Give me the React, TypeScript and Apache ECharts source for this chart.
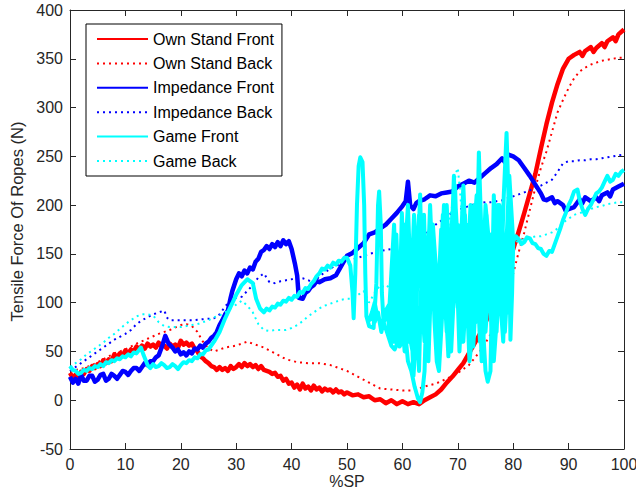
import React, { useEffect, useRef } from "react";
import * as echarts from "echarts";

type Pt = [number, number];

// Rope tension (N) against %SP for the three strategies, front and back ropes.
const ownStandFront: Pt[] = [
  [0, 28], [0.5, 23], [1, 26], [1.5, 22], [2, 29], [2.5, 27], [3, 32], [3.5, 30], [4, 35], [4.5, 33],
  [5, 37], [5.5, 35], [6, 41], [6.5, 38], [7, 42], [7.5, 40], [8, 47], [8.5, 44], [9, 48], [9.5, 46],
  [10, 51], [10.5, 48], [11, 52], [11.5, 50], [12, 55], [12.5, 52], [13, 56], [13.5, 53], [14, 58], [14.5, 55],
  [15, 57], [15.5, 54], [16, 59], [16.5, 55], [17, 56], [17.5, 53], [18, 58], [18.5, 55], [19, 57], [19.5, 54],
  [20, 61], [20.5, 57], [21, 59], [21.5, 56], [22, 58], [22.5, 53], [23, 50], [23.5, 45], [24, 43], [24.5, 40],
  [25, 38], [25.5, 35], [26, 34], [26.5, 31], [27, 34], [27.5, 31], [28, 33], [28.5, 30], [29, 35], [29.5, 32],
  [30, 34], [30.5, 37], [31, 34], [31.5, 38], [32, 35], [32.5, 37], [33, 34], [33.5, 36], [34, 32], [34.5, 35],
  [35, 31], [35.5, 30], [36, 29], [36.5, 27], [37, 28], [37.5, 24], [38, 25], [38.5, 20], [39, 22], [39.5, 17],
  [40, 18], [40.5, 13], [41, 16], [41.5, 11], [42, 17], [42.5, 12], [43, 14], [43.5, 10], [44, 15], [44.5, 11],
  [45, 13], [45.5, 9], [46, 12], [46.5, 10], [47, 11], [47.5, 8], [48, 11], [48.5, 8], [49, 9], [49.5, 6],
  [50, 8], [51, 5], [52, 6], [53, 3], [54, 4], [55, 0], [56, 1], [57, -3], [58, 0], [59, -4],
  [60, -1], [61, -4], [62, -2], [63, -4], [64, 0], [65, 3], [66, 6], [67, 11], [68, 18], [69, 24],
  [70, 31], [71, 38], [72, 48], [73, 58], [74, 68], [75, 80], [76, 92], [77, 104], [78, 120], [79, 138],
  [80, 155], [81, 173], [82, 192], [83, 212], [84, 232], [85, 258], [86, 283], [87, 305], [88, 324], [89, 340],
  [90, 350], [91, 354], [92, 357], [92.5, 353], [93, 358], [94, 362], [94.5, 357], [95, 361], [96, 366], [96.5, 362],
  [97, 368], [98, 372], [98.5, 368], [99, 375], [100, 380],
];

const ownStandBack: Pt[] = [
  [0, 30], [2, 32], [4, 36], [6, 42], [8, 48], [10, 52], [12, 58], [14, 63], [16, 68], [18, 72],
  [20, 77], [21, 78], [22, 76], [23, 70], [24, 60], [25, 53], [26, 50], [27, 52], [28, 54], [30, 56],
  [32, 60], [33, 58], [35, 54], [37, 48], [39, 42], [41, 39], [43, 38], [45, 38], [47, 36], [48, 34],
  [50, 30], [52, 24], [54, 18], [56, 12], [58, 11], [60, 10], [62, 10], [63, 12], [64, 14], [66, 17],
  [68, 22], [70, 28], [72, 36], [74, 50], [76, 68], [78, 95], [80, 130], [81, 152], [82, 172], [83, 195],
  [84, 218], [85, 238], [86, 255], [87, 275], [88, 295], [89, 308], [90, 320], [91, 330], [92, 337], [93, 341],
  [94, 344], [95, 346], [96, 348], [97, 349], [98, 350], [99, 351], [100, 351],
];

const impedanceFront: Pt[] = [
  [0, 24], [0.5, 18], [1, 22], [1.5, 17], [2, 26], [2.5, 20], [3, 20], [3.5, 25], [4, 25], [4.5, 19],
  [5, 21], [5.5, 26], [6, 27], [6.5, 20], [7, 22], [7.5, 27], [8, 25], [8.5, 22], [9, 26], [9.5, 30],
  [10, 29], [10.5, 26], [11, 30], [11.5, 33], [12, 33], [12.5, 30], [13, 34], [13.5, 38], [14, 36], [14.5, 40],
  [15, 40], [15.5, 44], [16, 46], [16.6, 55], [17.2, 66], [17.8, 58], [18.5, 54], [19, 50], [19.5, 52], [20, 47],
  [20.5, 49], [21, 46], [21.5, 50], [22, 48], [22.5, 53], [23, 52], [23.5, 56], [24, 54], [24.5, 58], [25, 60],
  [25.5, 64], [26, 66], [26.5, 70], [27, 77], [27.5, 82], [28, 88], [28.5, 92], [29, 105], [29.3, 112], [30, 124],
  [30.5, 130], [31, 127], [31.5, 133], [32, 130], [32.5, 136], [33, 134], [33.5, 142], [34, 145], [34.5, 152], [35, 154],
  [35.5, 158], [36, 155], [36.5, 160], [37, 157], [37.5, 162], [38, 158], [38.5, 164], [39, 160], [39.5, 163], [40, 155],
  [40.6, 140], [41, 128], [41.3, 105], [42, 104], [42.5, 110], [43, 112], [43.5, 116], [44, 118], [44.5, 122], [45, 121],
  [46, 124], [47, 125], [48, 128], [49, 138], [50, 148], [51, 151], [52, 156], [53, 161], [54, 170], [55, 172],
  [56, 176], [57, 180], [58, 186], [59, 192], [60, 199], [60.6, 204], [61, 224], [61.4, 200], [62, 196], [62.5, 202],
  [63, 204], [64, 206], [65, 210], [66, 209], [67, 212], [68, 213], [69, 214], [70, 219], [71, 222], [72, 225],
  [73, 223], [74, 228], [75, 233], [76, 238], [77, 242], [78, 248], [78.5, 244], [79, 252], [80, 250], [81, 246],
  [82, 238], [83, 230], [84, 221], [85, 212], [85.5, 206], [86, 205], [87, 208], [87.5, 202], [88, 204], [89, 200],
  [89.5, 194], [90, 196], [91, 198], [92, 206], [92.5, 202], [93, 208], [94, 204], [95, 208], [95.5, 204], [96, 210],
  [97, 213], [97.5, 209], [98, 216], [99, 219], [100, 222],
];

const impedanceBack: Pt[] = [
  [0, 30], [1, 34], [2, 38], [3, 42], [4, 46], [5, 50], [6, 54], [7, 58], [8, 62], [9, 65],
  [10, 68], [11, 72], [12, 78], [13, 82], [14, 85], [15, 88], [16, 90], [17, 92], [17.6, 84], [18, 82],
  [20, 82], [22, 82], [24, 83], [26, 84], [27, 88], [28, 96], [29, 103], [30, 105], [31, 106], [32, 112],
  [33, 118], [34, 126], [35, 130], [36, 121], [37, 120], [38, 122], [39, 123], [40, 124], [41, 126], [42, 125],
  [43, 123], [44, 120], [45, 127], [46, 131], [47, 135], [48, 138], [50, 142], [52, 146], [54, 150], [56, 153],
  [58, 155], [60, 157], [61, 160], [62, 163], [63, 167], [64, 170], [65, 174], [66, 180], [67, 184], [68, 189],
  [69, 192], [70, 195], [71, 197], [72, 199], [73, 201], [74, 202], [75, 203], [76, 203], [77, 204], [78, 205],
  [79, 207], [80, 209], [81, 211], [82, 213], [83, 215], [84, 218], [85, 220], [86, 223], [87, 226], [88, 234],
  [89, 243], [90, 245], [91, 245], [92, 246], [93, 246], [94, 247], [95, 247], [96, 248], [97, 249], [98, 250],
  [99, 251], [100, 252],
];

// The game trial swings back and forth across the 50-80 %SP range, so x is not monotonic there.
const gameFront: Pt[] = [
  [0, 35], [0.5, 31], [1, 30], [1.5, 27], [2, 28], [2.5, 31], [3, 30], [3.5, 33], [4, 32], [4.5, 35],
  [5, 34], [5.5, 37], [6, 35], [6.5, 39], [7, 38], [7.5, 41], [8, 40], [8.5, 43], [9, 42], [9.5, 45],
  [10, 44], [10.5, 47], [11, 45], [11.5, 49], [12, 48], [12.8, 54], [13.3, 46], [14, 36], [14.5, 33], [15, 37],
  [15.5, 34], [16, 35], [16.5, 38], [17, 36], [17.5, 33], [18, 34], [18.5, 37], [19, 35], [19.5, 32], [20, 36],
  [20.5, 39], [21, 38], [21.5, 41], [22, 40], [22.5, 44], [23, 43], [23.5, 47], [24, 47], [24.5, 51], [25, 52],
  [26, 60], [27, 70], [28, 84], [29, 96], [30, 108], [31, 118], [32, 124], [33, 120], [33.6, 104], [34.3, 94],
  [35, 90], [35.5, 94], [36, 92], [36.5, 96], [37, 95], [37.5, 99], [38, 98], [38.5, 102], [39, 101], [39.5, 105],
  [40, 103], [40.5, 107], [41, 106], [41.5, 111], [42, 110], [42.5, 115], [43, 114], [43.5, 119], [44, 122], [44.5, 127],
  [45, 130], [45.5, 135], [46, 134], [46.5, 138], [47, 136], [47.5, 141], [48, 139], [48.5, 143], [49, 142], [49.5, 146],
  [50, 146],
  // first sweep
  [50.6, 138], [51, 110], [51.2, 84], [51.5, 130], [51.8, 200], [52.1, 240], [52.4, 249], [52.8, 244], [53.1, 200], [53.3, 130],
  [53.5, 86], [54, 76], [54.8, 74], [55.3, 120], [55.6, 200], [55.8, 214], [56.1, 180], [56.3, 110], [56.6, 80], [57.2, 70],
  [58, 56], [58.6, 52], [59.2, 60], [59.6, 120], [59.9, 192], [60.2, 150], [60.5, 70], [61, 40], [61.6, 30], [62.2, 14],
  [62.8, 2], [63.2, -2], [63.6, 8], [64, 30], [64.3, 90], [64.6, 160], [65, 185], [65.4, 140], [65.8, 80], [66.2, 40],
  [66.6, 30], [67.2, 90], [67.6, 170], [68, 140], [68.4, 70], [68.8, 50], [69.3, 110], [69.6, 200], [70, 160], [70.4, 90],
  [71, 60], [71.5, 110], [72, 180], [72.4, 120], [72.8, 55], [73.3, 110], [73.8, 254], [74.2, 180], [74.5, 80], [75, 30],
  [75.4, 19], [75.9, 30], [76.2, 120], [76.5, 210], [76.9, 150], [77.3, 90], [77.8, 120], [78.3, 210], [78.8, 274], [79.2, 200],
  [79.5, 62], [79.8, 110], [80, 160],
  // return sweep
  [79, 150], [78, 120], [77.5, 170], [77, 100], [76.5, 60], [76, 140], [75, 200], [74.5, 120], [74, 60], [73.5, 130],
  [73, 200], [72.5, 110], [72, 70], [71.5, 150], [71, 220], [70.5, 150], [70, 95], [69.5, 140], [69, 190], [68.5, 110],
  [68, 70], [67.5, 120], [67, 175], [66.5, 110], [66, 60], [65.5, 130], [65, 200], [64.5, 120], [64, 70], [63.5, 140],
  [63.2, 211], [62.8, 150], [62.4, 60], [62, 25], [61.6, 80], [61.2, 160], [60.8, 120], [60.4, 50], [60, 80], [59.5, 150],
  [59, 110], [58.5, 60], [58, 90], [57.5, 96], [57, 84], [56.6, 80], [56.2, 70], [55.6, 90], [55, 80], [54.4, 85],
  [54, 82],
  // second forward sweep
  [54.5, 90], [55, 100], [55.5, 85], [56.5, 78], [57, 92], [57.8, 100], [58.3, 90], [59, 70], [60, 100], [60.5, 140],
  [61, 100], [61.5, 60], [62, 45], [62.5, 110], [63, 160], [63.5, 100], [64, 60], [64.6, 110], [65.2, 170], [65.8, 120],
  [66.3, 70], [66.9, 100], [67.4, 160], [68, 200], [68.5, 140], [69, 80], [69.5, 130], [70, 180], [70.6, 130], [71.2, 90],
  [71.8, 140], [72.3, 200], [72.8, 130], [73.2, 80], [73.6, 140], [74, 190], [74.5, 120], [75, 70], [75.5, 110], [76, 170],
  [76.5, 120], [77, 70], [77.5, 130], [78, 190], [78.5, 120], [79, 90], [79.5, 140], [80, 163],
  // second return sweep
  [79.3, 230], [78.7, 150], [78.2, 60], [77.7, 100], [77.2, 200], [76.7, 90], [76.2, 40], [75.7, 150], [75.2, 190], [74.8, 90],
  [74.3, 40], [73.9, 120], [73.4, 210], [72.9, 170], [72.5, 60], [72.1, 40], [71.7, 100], [71.3, 190], [70.8, 110], [70.3, 50],
  [69.9, 120], [69.3, 230], [68.8, 150], [68.3, 45], [67.8, 100], [67.3, 190], [66.8, 120], [66.4, 45], [66, 90], [65.6, 170],
  [65.1, 110], [64.7, 40], [64.3, 110], [63.9, 190], [63.4, 120], [63, 30], [62.6, 90], [62.1, 190], [61.7, 130], [61.3, 60],
  [60.9, 110], [60.5, 180], [60.1, 120], [59.7, 65], [59.3, 110], [58.9, 170], [58.4, 100], [58, 60], [57.5, 80],
  // third forward sweep
  [58, 130], [58.5, 180], [59, 90], [59.5, 55], [60, 60], [60.5, 150], [61, 200], [61.5, 120], [62, 70], [62.5, 140],
  [63, 190], [63.5, 130], [64, 90], [64.5, 50], [65, 110], [65.5, 180], [66, 140], [66.5, 80], [67, 130], [67.5, 200],
  [68, 120], [68.5, 80], [69, 150], [69.5, 220], [70, 130], [70.5, 60], [71, 90], [71.5, 170], [72, 130], [72.5, 80],
  [73, 110], [73.5, 180], [74, 110], [74.5, 50], [75, 100], [75.5, 160], [76, 110], [76.5, 40], [77, 80], [77.5, 200],
  [78, 150], [78.5, 70], [79, 120], [79.5, 170], [80, 163],
  [80.5, 168], [81, 165], [81.5, 160], [82, 162], [82.5, 167], [83, 166], [83.5, 161], [84, 160], [84.5, 156], [85, 155],
  [85.5, 150], [86, 148], [86.5, 153], [87, 152], [87.5, 160], [88, 168], [88.5, 176], [89, 185], [89.5, 192], [90, 200],
  [90.5, 206], [91, 214], [91.6, 216], [92, 205], [92.5, 196], [93, 190], [93.5, 196], [94, 200], [94.5, 206], [95, 212],
  [95.5, 214], [96, 218], [96.5, 224], [97, 230], [97.5, 224], [98, 226], [98.5, 232], [99, 230], [99.5, 234], [100, 236],
];

const gameBack: Pt[] = [
  [0, 34], [1, 38], [2, 42], [3, 47], [4, 51], [5, 55], [6, 59], [7, 64], [8, 68], [9, 73],
  [10, 78], [11, 82], [12, 86], [13, 88], [14, 88], [15, 87], [16, 80], [17, 76], [18, 75], [19, 75],
  [20, 75], [21, 76], [22, 77], [23, 78], [24, 80], [25, 82], [26, 85], [27, 87], [28, 90], [29, 94],
  [30, 98], [31, 102], [32, 97], [33, 90], [34, 78], [35, 72], [36, 71], [37, 72], [38, 72], [39, 72],
  [40, 74], [41, 77], [42, 81], [43, 86], [44, 90], [45, 94], [46, 97], [47, 99], [48, 101], [49, 103],
  [50, 104], [51, 104], [52, 108], [53, 112], [54, 100], [55, 110], [56, 118], [57, 115], [58, 120], [59, 112],
  [60, 118], [61, 130], [62, 124], [63, 138], [64, 132], [65, 145], [66, 128], [67, 150], [68, 170], [69, 200],
  [69.6, 232], [70, 238], [70.4, 215], [71, 170], [72, 150], [73, 158], [74, 175], [75, 160], [76, 150], [77, 165],
  [78, 158], [79, 162], [80, 160], [81, 164], [82, 165], [83, 166], [84, 168], [85, 168], [86, 170], [87, 172],
  [88, 176], [89, 182], [90, 186], [91, 190], [92, 192], [93, 193], [94, 196], [95, 198], [96, 199], [97, 201],
  [98, 202], [99, 203], [100, 203],
];

const seriesNames = [
  "Own Stand Front",
  "Own Stand Back",
  "Impedance Front",
  "Impedance Back",
  "Game Front",
  "Game Back",
];

const FONT = '"Liberation Sans", Arial, Helvetica, sans-serif';
const AXIS = "#262626";
const RED = "#ff0000";
const BLUE = "#0000ff";
const CYAN = "#00ffff";

function lineSeries(name: string, data: Pt[], color: string, dotted: boolean, width = 4.5) {
  return {
    type: "line",
    name,
    data,
    symbol: "none",
    showSymbol: false,
    xAxisIndex: 0,
    yAxisIndex: 0,
    itemStyle: { color },
    lineStyle: dotted
      ? { color, width: 2, type: [2, 4] }
      : { color, width, type: "solid", join: "round" },
    emphasis: { disabled: true },
  };
}

export default function App() {
  const ref = useRef<HTMLDivElement>(null);

  useEffect(() => {
    const chart = echarts.init(ref.current!, undefined, { renderer: "svg" });

    const valueAxisBase = {
      type: "value",
      splitLine: { show: false },
      axisLine: { show: true, onZero: false, lineStyle: { color: AXIS, width: 1 } },
      axisTick: { show: true, inside: true, length: 6, lineStyle: { color: AXIS } },
    };

    chart.setOption({
      animation: false,
      backgroundColor: "#ffffff",
      textStyle: { fontFamily: FONT },
      grid: {
        left: 70,
        right: 12,
        top: 10,
        bottom: 41,
        containLabel: false,
        outerBoundsMode: "none",
      },
      legend: {
        orient: "vertical",
        left: 86,
        top: 24,
        padding: [7, 8, 7, 10],
        itemWidth: 51,
        itemHeight: 14,
        itemGap: 8.4,
        borderColor: "#000",
        borderWidth: 1,
        backgroundColor: "#fff",
        selectedMode: false,
        // line-only keys: the marker drawn in the middle of each key is made invisible
        itemStyle: { opacity: 0, borderWidth: 0 },
        lineStyle: { width: 2 },
        textStyle: { fontSize: 16, color: "#000", fontFamily: FONT },
        data: seriesNames,
      },
      xAxis: [
        {
          ...valueAxisBase,
          position: "bottom",
          min: 0,
          max: 100,
          interval: 10,
          axisLabel: { color: AXIS, fontSize: 16, fontFamily: FONT, margin: 7 },
          name: "%SP",
          nameLocation: "middle",
          nameGap: 24,
          nameMoveOverlap: false,
          nameTextStyle: { color: AXIS, fontSize: 16, lineHeight: 16, fontFamily: FONT },
        },
        {
          ...valueAxisBase,
          position: "top",
          min: 0,
          max: 100,
          interval: 10,
          axisLabel: { show: false },
        },
      ],
      yAxis: [
        {
          ...valueAxisBase,
          position: "left",
          min: -50,
          max: 400,
          interval: 50,
          axisLabel: { color: AXIS, fontSize: 16, fontFamily: FONT, margin: 7 },
          name: "Tensile Force Of Ropes (N)",
          nameLocation: "middle",
          nameGap: 44,
          nameTextStyle: {
            color: AXIS,
            fontSize: 16.5,
            fontFamily: FONT,
            padding: [0, 0, 0, 16],
          },
        },
        {
          ...valueAxisBase,
          position: "right",
          min: -50,
          max: 400,
          interval: 50,
          axisLabel: { show: false },
        },
      ],
      series: [
        lineSeries(seriesNames[0], ownStandFront, RED, false),
        lineSeries(seriesNames[1], ownStandBack, RED, true),
        lineSeries(seriesNames[2], impedanceFront, BLUE, false),
        lineSeries(seriesNames[3], impedanceBack, BLUE, true),
        lineSeries(seriesNames[4], gameFront, CYAN, false, 4),
        lineSeries(seriesNames[5], gameBack, CYAN, true),
      ],
    });

    return () => chart.dispose();
  }, []);

  return (
    <div
      ref={ref}
      style={{ position: "fixed", left: 0, top: 0, width: 636, height: 490, background: "#fff" }}
    />
  );
}
